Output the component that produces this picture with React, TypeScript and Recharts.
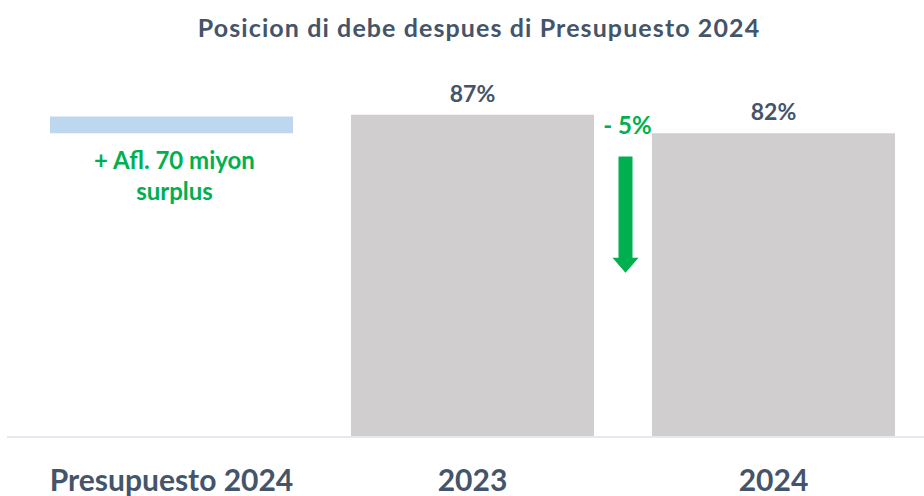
import { BarChart, Bar, XAxis, YAxis, Cell, ReferenceLine, ReferenceDot } from "recharts";

const categories = ["Presupuesto 2024", "2023", "2024"];
const debtShare = [null, 87, 82];
const surplusRange = [82, 86.5];
const changeLabel = "- 5%";
const surplusLines = ["+ Afl. 70 miyon", "surplus"];
const arrowFrom = 75.7;
const arrowTo = 44.3;

const COLORS = ["#bdd7ee", "#d0cece", "#d0cece"];
const TEXT = "#44546a";
const GREEN = "#00b050";
const FONT = "Lato, 'Open Sans', sans-serif";

const data = categories.map((name, i) => ({
  name,
  value: debtShare[i] == null ? surplusRange : debtShare[i],
}));

function renderTick(props: any) {
  const { x, y, payload } = props;
  return (
    <text x={x} y={y + 46} textAnchor="middle" fill={TEXT} fontSize={30} fontWeight={700} fontFamily={FONT}>
      {payload.value}
    </text>
  );
}

function renderValueLabel(props: any) {
  const { x, y, width, index } = props;
  const v = debtShare[index];
  if (v == null) return null;
  return (
    <text x={x + width / 2} y={y - 13} textAnchor="middle" fill={TEXT} fontSize={23} fontWeight={700} fontFamily={FONT}>
      {v}%
    </text>
  );
}

function renderArrow(props: any) {
  const { x1, y1, y2 } = props;
  const cx = x1 + 153;
  const head = 15;
  const pts = [
    [cx - 7, y1], [cx + 7, y1], [cx + 7, y2 - head], [cx + 13, y2 - head],
    [cx, y2], [cx - 13, y2 - head], [cx - 7, y2 - head],
  ].map((p) => p.join(",")).join(" ");
  return (
    <g>
      <text x={cx + 2} y={y1 - 23} textAnchor="middle" fill={GREEN} fontSize={24} fontWeight={700} fontFamily={FONT}>
        {changeLabel}
      </text>
      <polygon points={pts} fill={GREEN} />
    </g>
  );
}

function renderSurplus(props: any) {
  const { cx, cy } = props;
  return (
    <g>
      {surplusLines.map((line, i) => (
        <text key={i} x={cx + 3} y={cy + 36 + i * 31} textAnchor="middle" fill={GREEN} fontSize={24} fontWeight={700} fontFamily={FONT}>
          {line}
        </text>
      ))}
    </g>
  );
}

export default function App() {
  return (
    <div style={{ position: "absolute", left: 0, top: 0, width: 924, height: 496, background: "#fff" }}>
      <div
        style={{
          position: "absolute", left: 34, top: 11, width: 890, textAlign: "center",
          fontFamily: FONT, fontWeight: 700, fontSize: 25, letterSpacing: 1.1, color: TEXT, lineHeight: "32px",
        }}
      >
        Posicion di debe despues di Presupuesto 2024
      </div>
      <BarChart width={924} height={496} data={data} margin={{ top: 60, right: 0, bottom: 9, left: 7 }}>
        <XAxis
          dataKey="name"
          height={50}
          padding={{ left: 14, right: 0 }}
          tickLine={false}
          axisLine={{ stroke: "#e3e9ef", strokeWidth: 2 }}
          tick={renderTick}
          interval={0}
        />
        <YAxis hide domain={[0, 101.75]} allowDataOverflow />
        <Bar dataKey="value" barSize={243} isAnimationActive={false} label={renderValueLabel}>
          {data.map((_, i) => (
            <Cell key={i} fill={COLORS[i]} />
          ))}
        </Bar>
        <ReferenceLine
          segment={[{ x: categories[1], y: arrowFrom }, { x: categories[1], y: arrowTo }]}
          shape={renderArrow}
        />
        <ReferenceDot x={categories[0]} y={surplusRange[0]} r={0} shape={renderSurplus} />
      </BarChart>
    </div>
  );
}
